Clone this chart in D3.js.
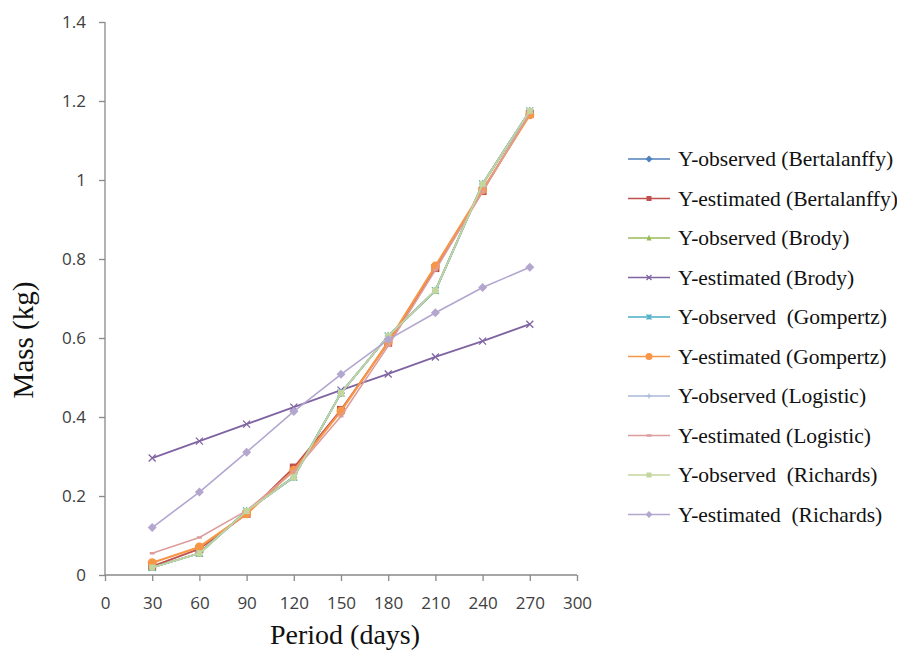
<!DOCTYPE html>
<html>
<head>
<meta charset="utf-8">
<script src="https://cdn.jsdelivr.net/npm/d3@7"></script>
<style>
  body { margin: 0; background: #fff; }
  svg { display: block; }
</style>
</head>
<body>
<div id="chart"></div>
<script>
const width = 897
const height = 651

// data
const days = [30, 60, 90, 120, 150, 180, 210, 240, 270]
const observed = [0.019, 0.055, 0.162, 0.248, 0.461, 0.605, 0.72, 0.99, 1.175]
const est_bertalanffy = [0.022, 0.066, 0.155, 0.272, 0.418, 0.588, 0.777, 0.972, 1.168]
const est_brody = [0.296, 0.339, 0.382, 0.425, 0.468, 0.509, 0.552, 0.592, 0.635]
const est_gompertz = [0.031, 0.071, 0.155, 0.265, 0.415, 0.59, 0.782, 0.975, 1.165]
const est_logistic = [0.055, 0.095, 0.163, 0.262, 0.402, 0.58, 0.772, 0.97, 1.17]
const est_richards = [0.12, 0.21, 0.311, 0.414, 0.508, 0.596, 0.664, 0.728, 0.779]
const x_ticks = [0, 30, 60, 90, 120, 150, 180, 210, 240, 270, 300]
const y_ticks = [0, 0.2, 0.4, 0.6, 0.8, 1, 1.2, 1.4]

const series = [
  { name: 'Y-observed (Bertalanffy)', values: observed, color: '#4f81bd', marker: 'diamond', size: 5, lw: 1.8 },
  { name: 'Y-estimated (Bertalanffy)', values: est_bertalanffy, color: '#c0504d', marker: 'square', size: 8, lw: 1.8 },
  { name: 'Y-observed (Brody)', values: observed, color: '#9bbb59', marker: 'triangle', size: 7, lw: 1.8 },
  { name: 'Y-estimated (Brody)', values: est_brody, color: '#8064a2', marker: 'cross', size: 7, lw: 1.8 },
  { name: 'Y-observed  (Gompertz)', values: observed, color: '#4bacc6', marker: 'star', size: 7, lw: 1.8 },
  { name: 'Y-estimated (Gompertz)', values: est_gompertz, color: '#f79646', marker: 'circle', size: 9, lw: 2.2 },
  { name: 'Y-observed (Logistic)', values: observed, color: '#a9b8d8', marker: 'plus', size: 7, lw: 1.6 },
  { name: 'Y-estimated (Logistic)', values: est_logistic, color: '#dc9e9c', marker: 'dash', size: 5, lw: 1.6 },
  { name: 'Y-observed  (Richards)', values: observed, color: '#c3d69b', marker: 'square', size: 6, lw: 1.6 },
  { name: 'Y-estimated  (Richards)', values: est_richards, color: '#b3a6cf', marker: 'diamond', size: 7, lw: 1.6 }
]

const x = d3.scaleLinear().domain([0, 300]).range([105, 577])
const y = d3.scaleLinear().domain([0, 1.4]).range([575, 22])

const svg = d3.select('#chart').append('svg')
  .attr('width', width)
  .attr('height', height)

const axis_color = '#898989'
const tick_font = '"Open Sans", "Liberation Sans", sans-serif'
const serif = '"Liberation Serif", "Times New Roman", serif'

// y axis
const y_axis = svg.append('g')
  .attr('transform', `translate(${x(0)},0)`)
  .call(d3.axisLeft(y).tickValues(y_ticks).tickSize(6).tickPadding(13)
    .tickFormat(d => d3.format('~g')(d)))
// x axis
const x_axis = svg.append('g')
  .attr('transform', `translate(0,${y(0)})`)
  .call(d3.axisBottom(x).tickValues(x_ticks).tickSize(6).tickPadding(16))

for (const ax of [x_axis, y_axis]) {
  ax.select('.domain').attr('stroke', axis_color).attr('stroke-width', 1.3)
  ax.selectAll('.tick line').attr('stroke', axis_color).attr('stroke-width', 1.3)
  ax.selectAll('.tick text')
    .attr('fill', '#404040')
    .style('font-family', tick_font)
    .style('font-size', '17px')
}
// plain axis lines without outer ticks
y_axis.select('.domain').attr('d', `M0,${y(1.4)}V${y(0)}`)
x_axis.select('.domain').attr('d', `M${x(0)},0H${x(300)}`)

// axis titles
svg.append('text')
  .attr('x', 345).attr('y', 644)
  .attr('text-anchor', 'middle')
  .style('font-family', serif)
  .style('font-size', '28px')
  .attr('fill', '#111')
  .text('Period (days)')

svg.append('text')
  .attr('transform', `translate(33,${340}) rotate(-90)`)
  .attr('text-anchor', 'middle')
  .style('font-family', serif)
  .style('font-size', '29px')
  .attr('fill', '#111')
  .text('Mass (kg)')

function draw_marker(g, type, cx, cy, s, color) {
  const h = s / 2
  if (type === 'diamond') {
    g.append('path').attr('d', `M${cx},${cy - h - 1}L${cx + h + 1},${cy}L${cx},${cy + h + 1}L${cx - h - 1},${cy}Z`)
      .attr('fill', color)
  } else if (type === 'square') {
    g.append('rect').attr('x', cx - h).attr('y', cy - h).attr('width', s).attr('height', s)
      .attr('fill', color)
  } else if (type === 'triangle') {
    g.append('path').attr('d', `M${cx},${cy - h - 1}L${cx + h},${cy + h}L${cx - h},${cy + h}Z`)
      .attr('fill', color)
  } else if (type === 'circle') {
    g.append('circle').attr('cx', cx).attr('cy', cy).attr('r', h).attr('fill', color)
  } else if (type === 'cross') {
    g.append('path').attr('d', `M${cx - h},${cy - h}L${cx + h},${cy + h}M${cx + h},${cy - h}L${cx - h},${cy + h}`)
      .attr('stroke', color).attr('stroke-width', 1.3)
  } else if (type === 'star') {
    g.append('path').attr('d', `M${cx - h},${cy - h}L${cx + h},${cy + h}M${cx + h},${cy - h}L${cx - h},${cy + h}M${cx},${cy - h}V${cy + h}`)
      .attr('stroke', color).attr('stroke-width', 1.3)
  } else if (type === 'plus') {
    g.append('path').attr('d', `M${cx - h},${cy}H${cx + h}M${cx},${cy - h}V${cy + h}`)
      .attr('stroke', color).attr('stroke-width', 1.2)
  } else if (type === 'dash') {
    g.append('path').attr('d', `M${cx - h},${cy}H${cx + h}`)
      .attr('stroke', color).attr('stroke-width', 2.5)
  }
}

const line = d3.line()
  .x((d, i) => x(days[i]))
  .y(d => y(d))

const plot = svg.append('g')
series.forEach(s => {
  const g = plot.append('g')
  g.append('path')
    .attr('d', line(s.values))
    .attr('fill', 'none')
    .attr('stroke', s.color)
    .attr('stroke-width', s.lw)
  s.values.forEach((v, i) => draw_marker(g, s.marker, x(days[i]), y(v), s.size, s.color))
})

// legend
const legend = svg.append('g')
series.forEach((s, i) => {
  const ly = 159 + i * 39.5
  const g = legend.append('g')
  g.append('line')
    .attr('x1', 628).attr('x2', 670)
    .attr('y1', ly).attr('y2', ly)
    .attr('stroke', s.color).attr('stroke-width', 1.5)
  draw_marker(g, s.marker, 649, ly, s.marker === 'circle' ? 7 : 5, s.color)
  g.append('text')
    .attr('x', 678).attr('y', ly + 7)
    .style('font-family', serif)
    .style('font-size', '21.5px')
    .style('white-space', 'pre')
    .attr('fill', '#111')
    .text(s.name)
})
</script>
</body>
</html>
